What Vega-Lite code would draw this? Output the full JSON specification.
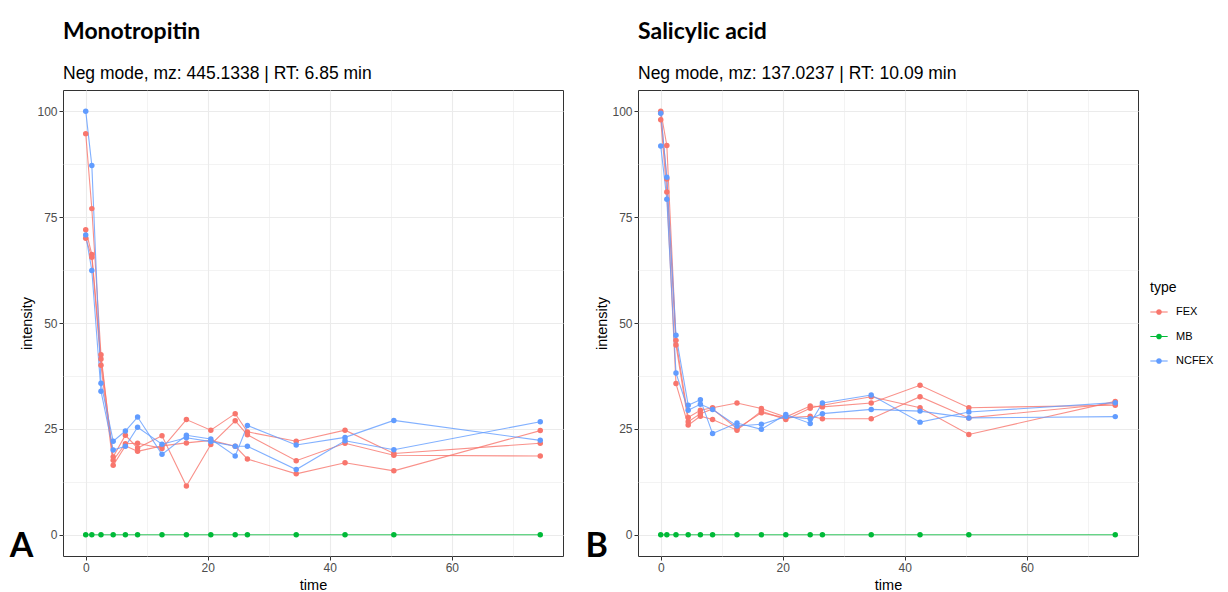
{
  "$schema": "https://vega.github.io/schema/vega-lite/v6.json",
  "background": "white",
  "padding": {"left": 9, "top": 20, "right": 5, "bottom": 5},
  "datasets": {
    "monotropitin": [
      {"time": 0, "intensity": 94.7, "type": "FEX", "rep": "FEX1"},
      {"time": 1, "intensity": 77, "type": "FEX", "rep": "FEX1"},
      {"time": 2.5, "intensity": 42.5, "type": "FEX", "rep": "FEX1"},
      {"time": 4.5, "intensity": 17.6, "type": "FEX", "rep": "FEX1"},
      {"time": 6.5, "intensity": 21.5, "type": "FEX", "rep": "FEX1"},
      {"time": 8.5, "intensity": 21.6, "type": "FEX", "rep": "FEX1"},
      {"time": 12.5, "intensity": 20.4, "type": "FEX", "rep": "FEX1"},
      {"time": 16.5, "intensity": 27.2, "type": "FEX", "rep": "FEX1"},
      {"time": 20.5, "intensity": 24.7, "type": "FEX", "rep": "FEX1"},
      {"time": 24.5, "intensity": 28.6, "type": "FEX", "rep": "FEX1"},
      {"time": 26.5, "intensity": 24.3, "type": "FEX", "rep": "FEX1"},
      {"time": 34.5, "intensity": 22.1, "type": "FEX", "rep": "FEX1"},
      {"time": 42.5, "intensity": 24.7, "type": "FEX", "rep": "FEX1"},
      {"time": 50.5, "intensity": 19.2, "type": "FEX", "rep": "FEX1"},
      {"time": 74.5, "intensity": 21.6, "type": "FEX", "rep": "FEX1"},
      {"time": 0, "intensity": 72, "type": "FEX", "rep": "FEX2"},
      {"time": 1, "intensity": 66.2, "type": "FEX", "rep": "FEX2"},
      {"time": 2.5, "intensity": 41.5, "type": "FEX", "rep": "FEX2"},
      {"time": 4.5, "intensity": 18.4, "type": "FEX", "rep": "FEX2"},
      {"time": 6.5, "intensity": 23.5, "type": "FEX", "rep": "FEX2"},
      {"time": 8.5, "intensity": 20.5, "type": "FEX", "rep": "FEX2"},
      {"time": 12.5, "intensity": 23.4, "type": "FEX", "rep": "FEX2"},
      {"time": 16.5, "intensity": 11.5, "type": "FEX", "rep": "FEX2"},
      {"time": 20.5, "intensity": 21.3, "type": "FEX", "rep": "FEX2"},
      {"time": 24.5, "intensity": 26.9, "type": "FEX", "rep": "FEX2"},
      {"time": 26.5, "intensity": 23.6, "type": "FEX", "rep": "FEX2"},
      {"time": 34.5, "intensity": 17.5, "type": "FEX", "rep": "FEX2"},
      {"time": 42.5, "intensity": 21.6, "type": "FEX", "rep": "FEX2"},
      {"time": 50.5, "intensity": 18.8, "type": "FEX", "rep": "FEX2"},
      {"time": 74.5, "intensity": 18.6, "type": "FEX", "rep": "FEX2"},
      {"time": 0, "intensity": 70, "type": "FEX", "rep": "FEX3"},
      {"time": 1, "intensity": 65.5, "type": "FEX", "rep": "FEX3"},
      {"time": 2.5, "intensity": 40, "type": "FEX", "rep": "FEX3"},
      {"time": 4.5, "intensity": 16.4, "type": "FEX", "rep": "FEX3"},
      {"time": 6.5, "intensity": 21, "type": "FEX", "rep": "FEX3"},
      {"time": 8.5, "intensity": 19.7, "type": "FEX", "rep": "FEX3"},
      {"time": 12.5, "intensity": 21, "type": "FEX", "rep": "FEX3"},
      {"time": 16.5, "intensity": 21.7, "type": "FEX", "rep": "FEX3"},
      {"time": 20.5, "intensity": 22.3, "type": "FEX", "rep": "FEX3"},
      {"time": 24.5, "intensity": 20.9, "type": "FEX", "rep": "FEX3"},
      {"time": 26.5, "intensity": 17.9, "type": "FEX", "rep": "FEX3"},
      {"time": 34.5, "intensity": 14.4, "type": "FEX", "rep": "FEX3"},
      {"time": 42.5, "intensity": 17, "type": "FEX", "rep": "FEX3"},
      {"time": 50.5, "intensity": 15.1, "type": "FEX", "rep": "FEX3"},
      {"time": 74.5, "intensity": 24.6, "type": "FEX", "rep": "FEX3"},
      {"time": 0, "intensity": 0, "type": "MB", "rep": "MB1"},
      {"time": 1, "intensity": 0, "type": "MB", "rep": "MB1"},
      {"time": 2.5, "intensity": 0, "type": "MB", "rep": "MB1"},
      {"time": 4.5, "intensity": 0, "type": "MB", "rep": "MB1"},
      {"time": 6.5, "intensity": 0, "type": "MB", "rep": "MB1"},
      {"time": 8.5, "intensity": 0, "type": "MB", "rep": "MB1"},
      {"time": 12.5, "intensity": 0, "type": "MB", "rep": "MB1"},
      {"time": 16.5, "intensity": 0, "type": "MB", "rep": "MB1"},
      {"time": 20.5, "intensity": 0, "type": "MB", "rep": "MB1"},
      {"time": 24.5, "intensity": 0, "type": "MB", "rep": "MB1"},
      {"time": 26.5, "intensity": 0, "type": "MB", "rep": "MB1"},
      {"time": 34.5, "intensity": 0, "type": "MB", "rep": "MB1"},
      {"time": 42.5, "intensity": 0, "type": "MB", "rep": "MB1"},
      {"time": 50.5, "intensity": 0, "type": "MB", "rep": "MB1"},
      {"time": 74.5, "intensity": 0, "type": "MB", "rep": "MB1"},
      {"time": 0, "intensity": 100, "type": "NCFEX", "rep": "NC1"},
      {"time": 1, "intensity": 87.2, "type": "NCFEX", "rep": "NC1"},
      {"time": 2.5, "intensity": 35.8, "type": "NCFEX", "rep": "NC1"},
      {"time": 4.5, "intensity": 22.1, "type": "NCFEX", "rep": "NC1"},
      {"time": 6.5, "intensity": 24.5, "type": "NCFEX", "rep": "NC1"},
      {"time": 8.5, "intensity": 27.8, "type": "NCFEX", "rep": "NC1"},
      {"time": 12.5, "intensity": 19, "type": "NCFEX", "rep": "NC1"},
      {"time": 16.5, "intensity": 23.5, "type": "NCFEX", "rep": "NC1"},
      {"time": 20.5, "intensity": 22.6, "type": "NCFEX", "rep": "NC1"},
      {"time": 24.5, "intensity": 18.6, "type": "NCFEX", "rep": "NC1"},
      {"time": 26.5, "intensity": 25.8, "type": "NCFEX", "rep": "NC1"},
      {"time": 34.5, "intensity": 21.2, "type": "NCFEX", "rep": "NC1"},
      {"time": 42.5, "intensity": 23, "type": "NCFEX", "rep": "NC1"},
      {"time": 50.5, "intensity": 27, "type": "NCFEX", "rep": "NC1"},
      {"time": 74.5, "intensity": 22.3, "type": "NCFEX", "rep": "NC1"},
      {"time": 0, "intensity": 70.8, "type": "NCFEX", "rep": "NC2"},
      {"time": 1, "intensity": 62.4, "type": "NCFEX", "rep": "NC2"},
      {"time": 2.5, "intensity": 33.9, "type": "NCFEX", "rep": "NC2"},
      {"time": 4.5, "intensity": 20, "type": "NCFEX", "rep": "NC2"},
      {"time": 6.5, "intensity": 20.9, "type": "NCFEX", "rep": "NC2"},
      {"time": 8.5, "intensity": 25.4, "type": "NCFEX", "rep": "NC2"},
      {"time": 12.5, "intensity": 21.4, "type": "NCFEX", "rep": "NC2"},
      {"time": 16.5, "intensity": 22.9, "type": "NCFEX", "rep": "NC2"},
      {"time": 20.5, "intensity": 22, "type": "NCFEX", "rep": "NC2"},
      {"time": 24.5, "intensity": 20.9, "type": "NCFEX", "rep": "NC2"},
      {"time": 26.5, "intensity": 20.9, "type": "NCFEX", "rep": "NC2"},
      {"time": 34.5, "intensity": 15.4, "type": "NCFEX", "rep": "NC2"},
      {"time": 42.5, "intensity": 22.2, "type": "NCFEX", "rep": "NC2"},
      {"time": 50.5, "intensity": 20.1, "type": "NCFEX", "rep": "NC2"},
      {"time": 74.5, "intensity": 26.7, "type": "NCFEX", "rep": "NC2"}
    ],
    "salicylic": [
      {"time": 0, "intensity": 100, "type": "FEX", "rep": "FEX1"},
      {"time": 1, "intensity": 91.9, "type": "FEX", "rep": "FEX1"},
      {"time": 2.5, "intensity": 45.9, "type": "FEX", "rep": "FEX1"},
      {"time": 4.5, "intensity": 27.7, "type": "FEX", "rep": "FEX1"},
      {"time": 6.5, "intensity": 29.4, "type": "FEX", "rep": "FEX1"},
      {"time": 8.5, "intensity": 30, "type": "FEX", "rep": "FEX1"},
      {"time": 12.5, "intensity": 31.1, "type": "FEX", "rep": "FEX1"},
      {"time": 16.5, "intensity": 29.8, "type": "FEX", "rep": "FEX1"},
      {"time": 20.5, "intensity": 27.8, "type": "FEX", "rep": "FEX1"},
      {"time": 24.5, "intensity": 30.4, "type": "FEX", "rep": "FEX1"},
      {"time": 26.5, "intensity": 30.2, "type": "FEX", "rep": "FEX1"},
      {"time": 34.5, "intensity": 31.1, "type": "FEX", "rep": "FEX1"},
      {"time": 42.5, "intensity": 35.3, "type": "FEX", "rep": "FEX1"},
      {"time": 50.5, "intensity": 30, "type": "FEX", "rep": "FEX1"},
      {"time": 74.5, "intensity": 30.6, "type": "FEX", "rep": "FEX1"},
      {"time": 0, "intensity": 99.6, "type": "FEX", "rep": "FEX2"},
      {"time": 1, "intensity": 84, "type": "FEX", "rep": "FEX2"},
      {"time": 2.5, "intensity": 44.8, "type": "FEX", "rep": "FEX2"},
      {"time": 4.5, "intensity": 26.7, "type": "FEX", "rep": "FEX2"},
      {"time": 6.5, "intensity": 28.6, "type": "FEX", "rep": "FEX2"},
      {"time": 8.5, "intensity": 29.7, "type": "FEX", "rep": "FEX2"},
      {"time": 12.5, "intensity": 25.1, "type": "FEX", "rep": "FEX2"},
      {"time": 16.5, "intensity": 28.8, "type": "FEX", "rep": "FEX2"},
      {"time": 20.5, "intensity": 27.6, "type": "FEX", "rep": "FEX2"},
      {"time": 24.5, "intensity": 28, "type": "FEX", "rep": "FEX2"},
      {"time": 26.5, "intensity": 27.4, "type": "FEX", "rep": "FEX2"},
      {"time": 34.5, "intensity": 27.4, "type": "FEX", "rep": "FEX2"},
      {"time": 42.5, "intensity": 32.6, "type": "FEX", "rep": "FEX2"},
      {"time": 50.5, "intensity": 27.6, "type": "FEX", "rep": "FEX2"},
      {"time": 74.5, "intensity": 31, "type": "FEX", "rep": "FEX2"},
      {"time": 0, "intensity": 98, "type": "FEX", "rep": "FEX3"},
      {"time": 1, "intensity": 80.9, "type": "FEX", "rep": "FEX3"},
      {"time": 2.5, "intensity": 35.7, "type": "FEX", "rep": "FEX3"},
      {"time": 4.5, "intensity": 25.9, "type": "FEX", "rep": "FEX3"},
      {"time": 6.5, "intensity": 28, "type": "FEX", "rep": "FEX3"},
      {"time": 8.5, "intensity": 27.2, "type": "FEX", "rep": "FEX3"},
      {"time": 12.5, "intensity": 24.7, "type": "FEX", "rep": "FEX3"},
      {"time": 16.5, "intensity": 29.2, "type": "FEX", "rep": "FEX3"},
      {"time": 20.5, "intensity": 27.2, "type": "FEX", "rep": "FEX3"},
      {"time": 24.5, "intensity": 29.9, "type": "FEX", "rep": "FEX3"},
      {"time": 26.5, "intensity": 30.6, "type": "FEX", "rep": "FEX3"},
      {"time": 34.5, "intensity": 32.6, "type": "FEX", "rep": "FEX3"},
      {"time": 42.5, "intensity": 30, "type": "FEX", "rep": "FEX3"},
      {"time": 50.5, "intensity": 23.7, "type": "FEX", "rep": "FEX3"},
      {"time": 74.5, "intensity": 31.5, "type": "FEX", "rep": "FEX3"},
      {"time": 0, "intensity": 0, "type": "MB", "rep": "MB1"},
      {"time": 1, "intensity": 0, "type": "MB", "rep": "MB1"},
      {"time": 2.5, "intensity": 0, "type": "MB", "rep": "MB1"},
      {"time": 4.5, "intensity": 0, "type": "MB", "rep": "MB1"},
      {"time": 6.5, "intensity": 0, "type": "MB", "rep": "MB1"},
      {"time": 8.5, "intensity": 0, "type": "MB", "rep": "MB1"},
      {"time": 12.5, "intensity": 0, "type": "MB", "rep": "MB1"},
      {"time": 16.5, "intensity": 0, "type": "MB", "rep": "MB1"},
      {"time": 20.5, "intensity": 0, "type": "MB", "rep": "MB1"},
      {"time": 24.5, "intensity": 0, "type": "MB", "rep": "MB1"},
      {"time": 26.5, "intensity": 0, "type": "MB", "rep": "MB1"},
      {"time": 34.5, "intensity": 0, "type": "MB", "rep": "MB1"},
      {"time": 42.5, "intensity": 0, "type": "MB", "rep": "MB1"},
      {"time": 50.5, "intensity": 0, "type": "MB", "rep": "MB1"},
      {"time": 74.5, "intensity": 0, "type": "MB", "rep": "MB1"},
      {"time": 0, "intensity": 99.5, "type": "NCFEX", "rep": "NC1"},
      {"time": 1, "intensity": 84.4, "type": "NCFEX", "rep": "NC1"},
      {"time": 2.5, "intensity": 47.1, "type": "NCFEX", "rep": "NC1"},
      {"time": 4.5, "intensity": 30.6, "type": "NCFEX", "rep": "NC1"},
      {"time": 6.5, "intensity": 31.9, "type": "NCFEX", "rep": "NC1"},
      {"time": 8.5, "intensity": 23.9, "type": "NCFEX", "rep": "NC1"},
      {"time": 12.5, "intensity": 26.4, "type": "NCFEX", "rep": "NC1"},
      {"time": 16.5, "intensity": 24.9, "type": "NCFEX", "rep": "NC1"},
      {"time": 20.5, "intensity": 28.4, "type": "NCFEX", "rep": "NC1"},
      {"time": 24.5, "intensity": 26.3, "type": "NCFEX", "rep": "NC1"},
      {"time": 26.5, "intensity": 31.1, "type": "NCFEX", "rep": "NC1"},
      {"time": 34.5, "intensity": 33, "type": "NCFEX", "rep": "NC1"},
      {"time": 42.5, "intensity": 26.6, "type": "NCFEX", "rep": "NC1"},
      {"time": 50.5, "intensity": 29, "type": "NCFEX", "rep": "NC1"},
      {"time": 74.5, "intensity": 31.2, "type": "NCFEX", "rep": "NC1"},
      {"time": 0, "intensity": 91.8, "type": "NCFEX", "rep": "NC2"},
      {"time": 1, "intensity": 79.2, "type": "NCFEX", "rep": "NC2"},
      {"time": 2.5, "intensity": 38.2, "type": "NCFEX", "rep": "NC2"},
      {"time": 4.5, "intensity": 29.4, "type": "NCFEX", "rep": "NC2"},
      {"time": 6.5, "intensity": 30.8, "type": "NCFEX", "rep": "NC2"},
      {"time": 8.5, "intensity": 29.6, "type": "NCFEX", "rep": "NC2"},
      {"time": 12.5, "intensity": 25.7, "type": "NCFEX", "rep": "NC2"},
      {"time": 16.5, "intensity": 26.1, "type": "NCFEX", "rep": "NC2"},
      {"time": 20.5, "intensity": 27.9, "type": "NCFEX", "rep": "NC2"},
      {"time": 24.5, "intensity": 27.4, "type": "NCFEX", "rep": "NC2"},
      {"time": 26.5, "intensity": 28.6, "type": "NCFEX", "rep": "NC2"},
      {"time": 34.5, "intensity": 29.6, "type": "NCFEX", "rep": "NC2"},
      {"time": 42.5, "intensity": 29.2, "type": "NCFEX", "rep": "NC2"},
      {"time": 50.5, "intensity": 27.6, "type": "NCFEX", "rep": "NC2"},
      {"time": 74.5, "intensity": 27.9, "type": "NCFEX", "rep": "NC2"}
    ]
  },
  "spacing": 20,
  "resolve": {"scale": {"color": "shared"}},
  "hconcat": [
    {
      "title": {"text": "Monotropitin", "subtitle": "Neg mode, mz: 445.1338 | RT: 6.85 min"},
      "width": 500,
      "height": 466,
      "data": {"name": "monotropitin"},
      "layer": [
        {
          "mark": {"type": "line", "strokeWidth": 1.1, "opacity": 0.8},
          "encoding": {
            "x": {"field": "time", "type": "quantitative", "title": "time",
                  "scale": {"domain": [-3.725, 78.225], "nice": false, "zero": false},
                  "axis": {"values": [0, 10, 20, 30, 40, 50, 60, 70],
                           "labelExpr": "datum.value % 20 === 0 ? datum.label : ''",
                           "tickOpacity": {"condition": {"test": "datum.value % 20 !== 0", "value": 0}, "value": 1},
                           "gridWidth": {"condition": {"test": "datum.value % 20 !== 0", "value": 0.6}, "value": 1.1}}},
            "y": {"field": "intensity", "type": "quantitative", "title": "intensity",
                  "scale": {"domain": [-5, 105], "nice": false, "zero": false},
                  "axis": {"values": [0, 12.5, 25, 37.5, 50, 62.5, 75, 87.5, 100],
                           "labelExpr": "datum.value % 25 === 0 ? datum.label : ''",
                           "tickOpacity": {"condition": {"test": "datum.value % 25 !== 0", "value": 0}, "value": 1},
                           "gridWidth": {"condition": {"test": "datum.value % 25 !== 0", "value": 0.6}, "value": 1.1}}},
            "color": {"field": "type", "type": "nominal", "title": "type",
                      "scale": {"domain": ["FEX", "MB", "NCFEX"], "range": ["#F8766D", "#00BA38", "#619CFF"]},
                      "legend": {"orient": "none", "legendX": 1087, "legendY": 191,
                                 "symbolType": "M-1,-0.07H1V0.07H-1Z M-0.33,0A0.33,0.33 0 1,1 0.33,0A0.33,0.33 0 1,1 -0.33,0Z",
                                 "encode": {"symbols": {"update": {"fill": {"scale": "color", "field": "value"}, "stroke": {"value": "transparent"}, "opacity": {"value": 1}}}}}},
            "detail": {"field": "rep", "type": "nominal"}
          }
        },
        {
          "mark": {"type": "point", "filled": true, "size": 30, "opacity": 1},
          "encoding": {
            "x": {"field": "time", "type": "quantitative", "scale": {"domain": [-3.725, 78.225], "nice": false, "zero": false}},
            "y": {"field": "intensity", "type": "quantitative", "scale": {"domain": [-5, 105], "nice": false, "zero": false}},
            "color": {"field": "type", "type": "nominal", "title": "type",
                      "scale": {"domain": ["FEX", "MB", "NCFEX"], "range": ["#F8766D", "#00BA38", "#619CFF"]},
                      "legend": {"orient": "none", "legendX": 1087, "legendY": 191,
                                 "symbolType": "M-1,-0.07H1V0.07H-1Z M-0.33,0A0.33,0.33 0 1,1 0.33,0A0.33,0.33 0 1,1 -0.33,0Z",
                                 "encode": {"symbols": {"update": {"fill": {"scale": "color", "field": "value"}, "stroke": {"value": "transparent"}, "opacity": {"value": 1}}}}}}
          }
        },
        {
          "data": {"values": [{"panel": "A"}]},
          "mark": {"type": "text", "font": "Lato", "fontWeight": "bold", "fontSize": 34, "align": "center", "baseline": "alphabetic", "color": "#000000"},
          "encoding": {
            "x": {"datum": -10.5, "type": "quantitative", "scale": {"domain": [-3.725, 78.225], "nice": false, "zero": false}},
            "y": {"datum": -5.3, "type": "quantitative", "scale": {"domain": [-5, 105], "nice": false, "zero": false}},
            "text": {"field": "panel"}
          }
        }
      ]
    },
    {
      "title": {"text": "Salicylic acid", "subtitle": "Neg mode, mz: 137.0237 | RT: 10.09 min"},
      "width": 500,
      "height": 466,
      "data": {"name": "salicylic"},
      "layer": [
        {
          "mark": {"type": "line", "strokeWidth": 1.1, "opacity": 0.8},
          "encoding": {
            "x": {"field": "time", "type": "quantitative", "title": "time",
                  "scale": {"domain": [-3.725, 78.225], "nice": false, "zero": false},
                  "axis": {"values": [0, 10, 20, 30, 40, 50, 60, 70],
                           "labelExpr": "datum.value % 20 === 0 ? datum.label : ''",
                           "tickOpacity": {"condition": {"test": "datum.value % 20 !== 0", "value": 0}, "value": 1},
                           "gridWidth": {"condition": {"test": "datum.value % 20 !== 0", "value": 0.6}, "value": 1.1}}},
            "y": {"field": "intensity", "type": "quantitative", "title": "intensity",
                  "scale": {"domain": [-5, 105], "nice": false, "zero": false},
                  "axis": {"values": [0, 12.5, 25, 37.5, 50, 62.5, 75, 87.5, 100],
                           "labelExpr": "datum.value % 25 === 0 ? datum.label : ''",
                           "tickOpacity": {"condition": {"test": "datum.value % 25 !== 0", "value": 0}, "value": 1},
                           "gridWidth": {"condition": {"test": "datum.value % 25 !== 0", "value": 0.6}, "value": 1.1}}},
            "color": {"field": "type", "type": "nominal", "title": "type",
                      "scale": {"domain": ["FEX", "MB", "NCFEX"], "range": ["#F8766D", "#00BA38", "#619CFF"]},
                      "legend": {"orient": "none", "legendX": 1087, "legendY": 191,
                                 "symbolType": "M-1,-0.07H1V0.07H-1Z M-0.33,0A0.33,0.33 0 1,1 0.33,0A0.33,0.33 0 1,1 -0.33,0Z",
                                 "encode": {"symbols": {"update": {"fill": {"scale": "color", "field": "value"}, "stroke": {"value": "transparent"}, "opacity": {"value": 1}}}}}},
            "detail": {"field": "rep", "type": "nominal"}
          }
        },
        {
          "mark": {"type": "point", "filled": true, "size": 30, "opacity": 1},
          "encoding": {
            "x": {"field": "time", "type": "quantitative", "scale": {"domain": [-3.725, 78.225], "nice": false, "zero": false}},
            "y": {"field": "intensity", "type": "quantitative", "scale": {"domain": [-5, 105], "nice": false, "zero": false}},
            "color": {"field": "type", "type": "nominal", "title": "type",
                      "scale": {"domain": ["FEX", "MB", "NCFEX"], "range": ["#F8766D", "#00BA38", "#619CFF"]},
                      "legend": {"orient": "none", "legendX": 1087, "legendY": 191,
                                 "symbolType": "M-1,-0.07H1V0.07H-1Z M-0.33,0A0.33,0.33 0 1,1 0.33,0A0.33,0.33 0 1,1 -0.33,0Z",
                                 "encode": {"symbols": {"update": {"fill": {"scale": "color", "field": "value"}, "stroke": {"value": "transparent"}, "opacity": {"value": 1}}}}}}
          }
        },
        {
          "data": {"values": [{"panel": "B"}]},
          "mark": {"type": "text", "font": "Lato", "fontWeight": "bold", "fontSize": 34, "align": "center", "baseline": "alphabetic", "color": "#000000"},
          "encoding": {
            "x": {"datum": -10.5, "type": "quantitative", "scale": {"domain": [-3.725, 78.225], "nice": false, "zero": false}},
            "y": {"datum": -5.3, "type": "quantitative", "scale": {"domain": [-5, 105], "nice": false, "zero": false}},
            "text": {"field": "panel"}
          }
        }
      ]
    }
  ],
  "config": {
    "font": "Liberation Sans",
    "view": {"stroke": "#333333", "strokeWidth": 1},
    "axis": {
      "domain": false,
      "tickColor": "#333333",
      "tickSize": 4,
      "labelColor": "#4D4D4D",
      "labelFont": "Liberation Sans",
      "labelFontSize": 12,
      "labelPadding": 2,
      "labelFlush": false,
      "titleFont": "Liberation Sans",
      "titleFontSize": 14.5,
      "titleFontWeight": "normal",
      "titleColor": "#000000",
      "titlePadding": 5,
      "gridColor": "#EBEBEB"
    },
    "axisY": {"titlePadding": 2},
    "title": {
      "anchor": "start",
      "frame": "group",
      "font": "Lato",
      "fontSize": 23,
      "fontWeight": "bold",
      "color": "#000000",
      "subtitleFont": "Liberation Sans",
      "subtitleFontSize": 17.5,
      "subtitleColor": "#000000",
      "subtitlePadding": 21,
      "offset": 8
    },
    "legend": {
      "titleFont": "Liberation Sans",
      "titleFontSize": 14,
      "titleFontWeight": "normal",
      "titleColor": "#000000",
      "titlePadding": 8,
      "labelFont": "Liberation Sans",
      "labelFontSize": 11,
      "labelColor": "#000000",
      "labelOffset": 8,
      "symbolSize": 300,
      "symbolStrokeWidth": 0,
      "symbolOpacity": 1,
      "rowPadding": 10.5
    }
  }
}
